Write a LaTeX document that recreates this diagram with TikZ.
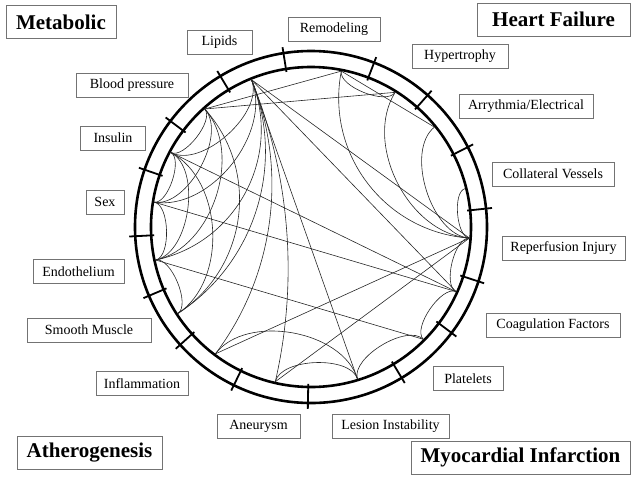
\documentclass[tikz,border=0pt]{standalone}
\usepackage{fontspec}
\setmainfont{Liberation Serif}
% curved link: leaves the rim at right angles, flatter when the ends are close
\newcommand\geolink[2]{%
  \pgfmathsetmacro\geoa{\csname ang#1\endcsname}%
  \pgfmathsetmacro\geob{\csname ang#2\endcsname}%
  \pgfmathsetmacro\geoh{abs(mod(\geob-\geoa+540,360)-180)/2}%
  \pgfmathsetmacro\geol{4/3*tan(45-\geoh/2)/(0.783*cos(\geoh))*min(1,0.3+\geoh/57)}%
  \pgfmathsetmacro\geoo{\geoa+180}%
  \pgfmathsetmacro\geoi{\geob+180}%
  \draw[link] (#1) to[out=\geoo, in=\geoi, looseness=\geol] (#2);}
\begin{document}
\begin{tikzpicture}[x=1pt,y=1pt,
	ring/.style = {line width=2.6pt},
	tick mark/.style = {line width=1.8pt},
	link/.style = {line width=0.6pt, draw=black!85},
	label node/.style = {draw=black!55, line width=0.8pt, inner sep=0pt, minimum height=24pt, font=\fontsize{14}{16}\selectfont},
	title node/.style = {draw=black!55, line width=0.8pt, inner sep=0pt, minimum height=33pt, font=\fontsize{21}{24}\selectfont\bfseries}]

	\useasboundingbox (-311,-256) rectangle (325,227);

	% rim
	\draw[ring] (0,0) circle (176);
	\draw[ring] (0,0) circle (160);
	\foreach \t in {6,27,48.5,69,99,121,143,161,183,203,222,244,269,301,323,342}
		\draw[tick mark] (\t:157) -- (\t:182);

	% end points on the inner rim
	\foreach \n/\a in {Re/79,Li/112,BP/132,In/152,Sx/171,En/192,SM/213,If/233,An/257,LI/287,Pl/315,CF/336,RI/356,CV/14,AE/39,Hy/58}
		{\coordinate (\n) at (\a:158.8); \expandafter\xdef\csname ang\n\endcsname{\a}}

	% straight links
	\path[link] (BP) edge (Re) (BP) edge (Hy) (Re) edge (AE)
		(Li) edge (RI) (Li) edge (CF) (Li) edge (LI)
		(In) edge (CF) (Sx) edge (CF) (En) edge (Pl)
		(If) edge (RI) (An) edge (RI);

	% curved links
	\foreach \p/\q in {Li/In,Li/Sx,Li/En,Li/SM,Li/If,Li/An,BP/In,BP/Sx,BP/En,BP/SM,In/Sx,In/En,In/SM,Sx/En,En/SM,
		If/LI,An/LI,LI/Pl,Pl/CF,CF/RI,CV/RI,Re/Hy,Re/RI,Hy/RI,AE/RI}
		\geolink{\p}{\q};

	% labels
	\node[title node, minimum width=110pt] (metab) at (-250,205) {Metabolic};
	\node[label node, minimum width=65pt] (lip) at (-91.5,185) {Lipids};
	\node[label node, minimum width=112pt] (bp) at (-179,142) {Blood pressure};
	\node[label node, minimum width=65pt] (ins) at (-198,89) {Insulin};
	\node[label node, minimum width=38pt] (sex) at (-206,25) {Sex};
	\node[label node, minimum width=91pt] (endo) at (-232.5,-44.5) {Endothelium};
	\node[label node, minimum width=124pt] (smooth) at (-222,-103) {Smooth Muscle};
	\node[label node, minimum width=92pt] (infl) at (-169,-156.5) {Inflammation};
	\node[label node, minimum width=83pt] (aneu) at (-52.5,-199.5) {Aneurysm};
	\node[title node, minimum width=145pt] (ather) at (-221.5,-225.5) {Atherogenesis};
	\node[label node, minimum width=117pt] (lesion) at (79.5,-199.5) {Lesion Instability};
	\node[title node, minimum width=219pt] (mi) at (209.5,-230.5) {Myocardial Infarction};
	\node[label node, minimum width=70pt] (plat) at (157,-151.5) {Platelets};
	\node[label node, minimum width=134pt] (coag) at (242,-98) {Coagulation Factors};
	\node[label node, minimum width=123pt] (reperf) at (252.5,-21) {Reperfusion Injury};
	\node[label node, minimum width=122pt] (coll) at (242,53) {Collateral Vessels};
	\node[label node, minimum width=134pt] (arr) at (215,121) {Arrythmia/Electrical};
	\node[label node, minimum width=96pt] (hyper) at (149,171) {Hypertrophy};
	\node[label node, minimum width=92pt] (remod) at (23,197.5) {Remodeling};
	\node[title node, minimum width=153pt] (hf) at (242.5,207.5) {Heart Failure};
\end{tikzpicture}
\end{document}
